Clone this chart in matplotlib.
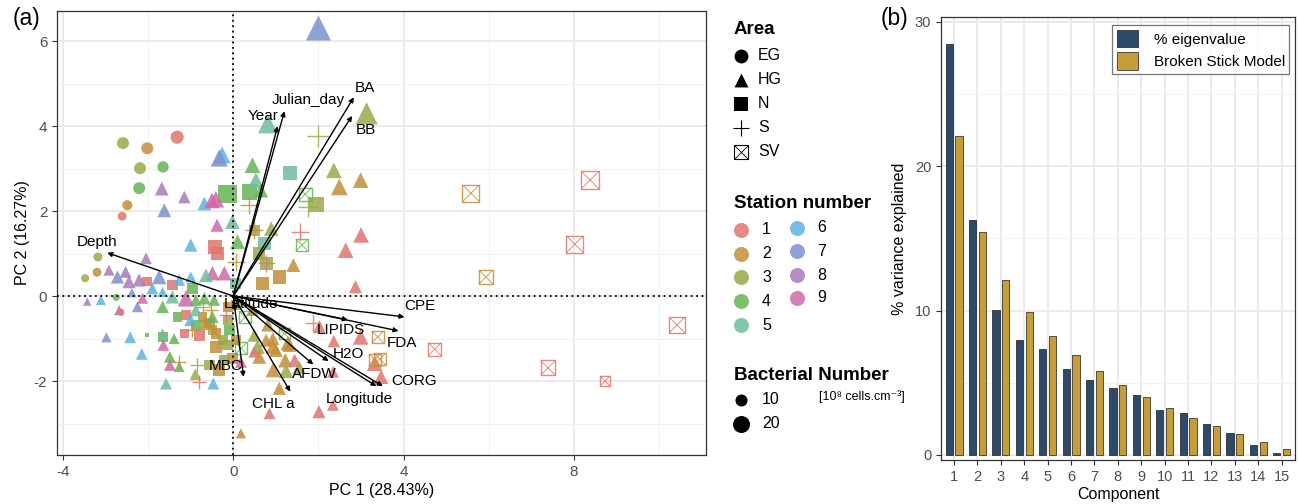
import matplotlib
matplotlib.use('Agg')
import matplotlib.pyplot as plt
from matplotlib.patches import Patch
from matplotlib.ticker import MultipleLocator

plt.rcParams['font.family'] = ['Liberation Sans', 'DejaVu Sans']
plt.rcParams['axes.unicode_minus'] = False

# ---------------- data: PCA scores (PC1, PC2), station, bacterial number ----------
eg_x = [-1.32, -2.59, -2.02, -2.19, -1.65, -2.21, -2.49, -2.61, -3.18, -3.20, -3.48, -2.75, -2.64]
eg_y = [3.74, 3.60, 3.48, 3.01, 3.04, 2.54, 2.14, 1.88, 0.92, 0.56, 0.42, -0.03, -0.38]
eg_stn = [1, 3, 2, 3, 4, 4, 2, 1, 3, 2, 3, 4, 1]
eg_bact = [12, 10, 10, 10, 9, 10, 7, 5.5, 5.5, 5.5, 4.5, 3.5, 3.5]

hg_x = [2.00, 3.13, 0.81, -0.26, -0.33, -1.68, -1.15, -1.62, -0.68, -0.50, -0.41, 0.45, 0.53, 0.65,
        2.36, 2.49, 2.99, -1.00, -0.38, -0.02, 0.10, 0.89, 3.00, 2.64, 1.41, 2.87, -0.49, -0.21,
        -0.64, -2.05, -2.92, -2.72, -2.53, -2.45, -2.21, -1.74, -1.90, -1.66, -1.27, -1.00, -2.38,
        -3.43, -3.11, -2.13, -2.25, -2.68, -1.66, -2.98, -2.42, -1.39, -1.64, -1.66, -2.15, -1.49,
        -1.49, -1.27, -0.89, -0.47, -1.58, -1.43, -1.11, -0.88, -0.68, -0.45, -0.88, -1.00, -0.49,
        0.18, 0.45, 2.02, 2.36, 2.99, 3.32, 3.47, 2.34, 2.34, 2.01, 1.22, 1.44, 1.24, 1.55, 1.08,
        1.28, 0.81, 0.93, 0.57, 0.93, 0.93, 0.61, 1.32, 0.85, 0.18, 0.49, 0.49, 0.77, 1.00]
hg_y = [6.31, 4.30, 4.06, 3.32, 3.25, 2.53, 2.33, 2.02, 2.18, 2.25, 2.28, 3.08, 2.73, 2.49,
        2.96, 2.57, 2.73, 1.20, 1.67, 1.75, 1.28, 1.59, 1.44, 1.08, 0.73, 0.22, 0.54, 0.54,
        0.49, 0.89, 0.61, 0.45, 0.57, 0.34, 0.38, 0.45, 0.18, 0.10, 0.38, 0.45, 0.08,
        -0.13, -0.09, -0.05, -0.25, -0.33, -0.25, -0.97, -0.97, -1.00, -1.15, -0.88, -1.36, -1.43,
        -1.62, -1.66, -1.84, -2.06, -2.06, -0.02, -0.05, -0.09, -0.05, -0.09, -0.33, -0.56, -0.49,
        -1.55, -0.33, -0.72, -1.06, -0.96, -1.58, -1.90, -1.78, -2.56, -2.72, -1.51, -1.51, -1.76, -1.68, -2.17,
        -1.11, -0.68, -1.00, -1.19, -1.19, -1.74, -1.43, -1.15, -2.76, -3.23, -0.92, -1.31, -1.04, -1.27]
hg_stn = [7, 3, 5, 6, 7, 8, 8, 7, 6, 9, 9, 4, 5, 4,
          3, 2, 2, 6, 9, 5, 4, 3, 1, 1, 2, 1, 9, 9,
          5, 8, 8, 7, 8, 8, 8, 7, 6, 6, 6, 6, 7,
          8, 6, 9, 7, 8, 4, 7, 6, 4, 9, 5, 6, 4,
          9, 4, 3, 6, 5, 5, 9, 4, 4, 4, 5, 6, 4,
          9, 2, 1, 1, 1, 1, 1, 1, 1, 1, 2, 1, 3, 3, 2,
          2, 2, 2, 3, 2, 2, 2, 2, 1, 2, 3, 1, 2, 2]
hg_bact = [36, 28, 22, 16, 17, 11, 9, 11, 11, 14, 16, 14, 14, 12,
           14, 16, 14, 10, 10, 12, 12, 12, 14, 14, 11, 10, 12, 12,
           11, 8, 7, 10, 8, 10, 10, 12, 8, 6, 8, 7, 5,
           4, 6, 7, 7, 6, 9, 6, 8, 7, 8, 6, 8, 8,
           8, 7, 8, 8, 8, 10, 16, 8, 9, 8, 9, 9, 9,
           8, 8, 10, 9, 14, 14, 12, 8, 8, 10, 12, 10, 12, 10, 10,
           12, 10, 10, 12, 12, 12, 11, 11, 8, 6, 10, 8, 10, 11]

n_x = [-0.13, 0.38, 1.33, 1.95, -0.43, -0.38, 0.49, 0.73, 0.61, 0.77, 1.08, 0.69, 0.06, -2.02,
       -1.43, -0.96, -2.02, -1.65, -1.31, -1.11, -0.72, -1.15, -0.80, -0.49, -0.64, -0.88, -0.41,
       -0.25, -0.09, -0.13, 0.06, -0.56, -0.33, -0.41, -0.13, -0.02, -0.56, -0.13, 0.06, -0.21]
n_y = [2.40, 2.45, 2.89, 2.16, 1.15, 1.00, 1.55, 1.24, 1.00, 0.77, 0.45, 0.30, 0.30, 0.34,
       0.26, 0.18, -0.92, -0.96, -0.49, -0.45, -0.49, -0.88, -0.92, -0.80, -0.68, -0.68, -0.88,
       -1.04, -0.80, -0.25, -0.21, -1.62, -1.74, -1.19, -1.15, -1.47, -0.64, -0.56, -1.04, -1.50]
n_stn = [4, 4, 5, 3, 1, 1, 3, 5, 3, 3, 2, 2, 5, 1,
         1, 4, 4, 4, 4, 1, 2, 1, 1, 3, 2, 4, 2,
         3, 4, 2, 3, 3, 2, 2, 3, 2, 2, 3, 2, 3]
n_bact = [30, 20, 17, 19, 17, 15, 11, 13, 13, 15, 15, 15, 10, 8,
          10, 10, 1.4, 9, 8, 8, 8, 7, 10, 8, 9, 8, 9,
          9, 9, 9, 9, 10, 12, 12, 10, 10, 9, 9, 9, 9]

s_x = [2.00, 0.38, 0.49, 1.75, 1.57, 0.77, 0.06, 1.87, -0.72, -0.52, -0.17, -0.96, -1.27, -0.86, -0.80]
s_y = [3.76, 2.14, 1.55, 2.10, 1.51, 0.77, 0.81, -0.63, -0.25, -0.33, -0.45, -0.80, -1.55, -1.62, -2.02]
s_stn = [3, 2, 2, 3, 1, 1, 2, 1, 3, 2, 1, 2, 2, 3, 1]
s_bact = [24, 16, 16, 20, 16, 14, 16, 14, 10, 10, 10, 10, 10, 10, 10]

sv_x = [5.58, 8.38, 8.02, 5.93, 10.42, 4.73, 7.39, 8.73, 3.39, 3.32, 3.44, 0.28, 1.20, 0.18, 1.69, 1.61]
sv_y = [2.42, 2.73, 1.22, 0.45, -0.68, -1.25, -1.69, -2.00, -0.96, -1.50, -1.48, -0.50, -0.88, -1.23, 2.40, 1.20]
sv_stn = [2, 1, 1, 2, 1, 1, 1, 1, 2, 2, 2, 4, 4, 4, 4, 4]
sv_bact = [25, 28, 25, 17, 22, 15, 19, 10, 12, 12, 12, 12, 12, 12, 15, 13]

# ---------------- loadings (arrows) ----------------
var_names = ['Year', 'Julian_day', 'BA', 'BB', 'Depth', 'CPE', 'FDA', 'LIPIDS', 'H2O', 'AFDW',
             'CORG', 'Longitude', 'CHL a', 'MBC', 'Latitude']
load_x = [1.04, 1.20, 2.83, 2.79, -2.96, 4.02, 3.88, 2.69, 2.24, 1.88, 3.51, 3.36, 1.34, 0.24, 0.05]
load_y = [4.00, 4.35, 4.68, 4.24, 1.02, -0.49, -0.82, -0.56, -1.53, -1.61, -2.12, -2.12, -2.25, -1.90, -0.35]
lab_x = [0.71, 1.76, 3.08, 3.12, -3.21, 4.39, 3.97, 2.53, 2.71, 1.91, 4.24, 2.96, 0.93, -0.17, 0.42]
lab_y = [4.24, 4.62, 4.90, 3.90, 1.28, -0.23, -1.10, -0.80, -1.36, -1.84, -2.00, -2.43, -2.53, -1.65, -0.19]

# ---------------- scree plot ----------------
components = list(range(1, 16))
eigen_pct = [28.43, 16.27, 10.04, 7.96, 7.32, 5.93, 5.19, 4.66, 4.13, 3.12, 2.89, 2.12, 1.50, 0.69, 0.12]
broken_stick = [22.12, 15.45, 12.12, 9.90, 8.23, 6.90, 5.79, 4.83, 4.00, 3.26, 2.59, 1.99, 1.43, 0.92, 0.44]

station_colors = {1: '#E0766F', 2: '#C48E38', 3: '#9BAA48', 4: '#68B456', 5: '#6EBC9C',
                  6: '#5DB4E0', 7: '#7B92CE', 8: '#A87CB8', 9: '#CE6AA6'}
ALPHA = 0.85
size_k = {'EG': 7.5, 'HG': 9.1, 'N': 6.0, 'S': 10.5, 'SV': 6.0}


def msize(b, area):
    return size_k[area] * b


fig = plt.figure(figsize=(12.98, 5.04), dpi=100)

# ================= Panel (a) =================
ax = fig.add_axes([57 / 1298, 1 - 455 / 504, (706 - 57) / 1298, (455 - 11) / 504])
ax.set_xlim(-4.14, 11.1)
ax.set_ylim(-3.74, 6.71)
ax.xaxis.set_major_locator(MultipleLocator(4))
ax.xaxis.set_minor_locator(MultipleLocator(2))
ax.yaxis.set_major_locator(MultipleLocator(2))
ax.yaxis.set_minor_locator(MultipleLocator(1))
ax.grid(which='major', color='#EBEBEB', lw=1.4, zorder=0)
ax.grid(which='minor', color='#F2F2F2', lw=0.7, zorder=0)
ax.set_axisbelow(True)
ax.tick_params(which='minor', length=0)
ax.tick_params(which='major', direction='out', length=3.5, width=0.8, color='#333333',
               labelcolor='#4D4D4D', labelsize=11)
for sp in ax.spines.values():
    sp.set_color('#333333')
    sp.set_linewidth(0.9)

groups = [('N', n_x, n_y, n_stn, n_bact), ('HG', hg_x, hg_y, hg_stn, hg_bact),
          ('EG', eg_x, eg_y, eg_stn, eg_bact), ('S', s_x, s_y, s_stn, s_bact),
          ('SV', sv_x, sv_y, sv_stn, sv_bact)]
for area, xs, ys, st, bb in groups:
    cols = [station_colors[k] for k in st]
    sz = [msize(b, area) for b in bb]
    if area == 'EG':
        ax.scatter(xs, ys, s=sz, c=cols, marker='o', alpha=ALPHA, linewidths=0, zorder=3)
    elif area == 'HG':
        ax.scatter(xs, ys, s=sz, c=cols, marker='^', alpha=ALPHA, linewidths=0, zorder=3)
    elif area == 'N':
        ax.scatter(xs, ys, s=sz, c=cols, marker='s', alpha=ALPHA, linewidths=0, zorder=3)
    elif area == 'S':
        ax.scatter(xs, ys, s=sz, c=cols, marker='+', alpha=ALPHA, linewidths=1.0, zorder=3)
    else:
        ax.scatter(xs, ys, s=sz, facecolors='none', edgecolors=cols, marker='s',
                   alpha=ALPHA, linewidths=1.0, zorder=3)
        ax.scatter(xs, ys, s=sz, c=cols, marker='x', alpha=ALPHA, linewidths=0.7, zorder=3)

ax.axhline(0, color='black', lw=1.3, ls=(0, (1, 2)), zorder=4)
ax.axvline(0, color='black', lw=1.3, ls=(0, (1, 2)), zorder=4)

for name, lx, ly, tx, ty in zip(var_names, load_x, load_y, lab_x, lab_y):
    ax.annotate('', xy=(lx, ly), xytext=(0, 0),
                arrowprops=dict(arrowstyle='-|>', color='black', lw=1.0, mutation_scale=7,
                                shrinkA=0, shrinkB=0), zorder=5)
    ax.text(tx, ty, name, fontsize=11, ha='center', va='center', color='black', zorder=6)

ax.set_xlabel('PC 1 (28.43%)', fontsize=11.5, labelpad=3)
ax.set_ylabel('PC 2 (16.27%)', fontsize=11.5, labelpad=3)

# ================= Panel (b) =================
bx = fig.add_axes([941 / 1298, 1 - 460 / 504, (1295 - 941) / 1298, (460 - 16.7) / 504])
off = 0.21
w = 0.31
bx.bar([c - off for c in components], eigen_pct, width=w, color='#2D4A6B',
       edgecolor='#1A1A1A', linewidth=0.5, zorder=3, label='% eigenvalue')
bx.bar([c + off for c in components], broken_stick, width=w, color='#C79D3A',
       edgecolor='#1A1A1A', linewidth=0.5, zorder=3, label='Broken Stick Model')
bx.set_xlim(0.44, 15.57)
bx.set_ylim(-0.35, 30.35)
bx.set_xticks(components)
bx.yaxis.set_major_locator(MultipleLocator(10))
bx.yaxis.set_minor_locator(MultipleLocator(5))
bx.grid(which='major', color='#EBEBEB', lw=1.4, zorder=0)
bx.grid(which='minor', axis='y', color='#F2F2F2', lw=0.7, zorder=0)
bx.set_axisbelow(True)
bx.tick_params(which='minor', length=0)
bx.tick_params(which='major', direction='out', length=3.5, width=0.8, color='#333333',
               labelcolor='#4D4D4D', labelsize=10.5)
for sp in bx.spines.values():
    sp.set_color('#333333')
    sp.set_linewidth(0.9)
bx.set_xlabel('Component', fontsize=11.5, labelpad=2)
bx.set_ylabel('% variance explained', fontsize=11.5, labelpad=6)
handles = [Patch(facecolor='#2D4A6B', edgecolor='#1A1A1A', lw=0.5),
           Patch(facecolor='#C79D3A', edgecolor='#1A1A1A', lw=0.5)]
leg = bx.legend(handles, ['% eigenvalue', 'Broken Stick Model'], loc='upper right',
                bbox_to_anchor=(0.993, 0.988), fontsize=11, frameon=True, fancybox=False,
                handlelength=1.4, handleheight=1.4, handletextpad=1.0, borderpad=0.3,
                labelspacing=0.3, borderaxespad=0.2)
leg.get_frame().set_edgecolor('#555555')
leg.get_frame().set_linewidth(0.9)

# ================= panel tags =================
fig.text(26 / 1298, 1 - 18 / 504, '(a)', fontsize=16.5, ha='center', va='center')
fig.text(895 / 1298, 1 - 18 / 504, '(b)', fontsize=16.5, ha='center', va='center')

# ================= legend for panel (a) (pixel-coordinate overlay) =================
lg = fig.add_axes([0, 0, 1, 1], zorder=10)
lg.set_xlim(0, 1298)
lg.set_ylim(504, 0)
lg.axis('off')
lg.patch.set_alpha(0)

kx = 741
tx = 758
lg.text(734, 30, 'Area', fontsize=13.5, fontweight='bold', va='center', ha='left')
area_names = ['EG', 'HG', 'N', 'S', 'SV']
area_keys = [56, 80, 104, 128, 152]
for nm, yy in zip(area_names, area_keys):
    if nm == 'EG':
        lg.scatter([kx], [yy], s=100, marker='o', c='black', linewidths=0)
    elif nm == 'HG':
        lg.scatter([kx], [yy], s=100, marker='^', c='black', linewidths=0)
    elif nm == 'N':
        lg.scatter([kx], [yy], s=88, marker='s', c='black', linewidths=0)
    elif nm == 'S':
        lg.scatter([kx], [yy], s=120, marker='+', c='black', linewidths=0.8)
    else:
        lg.scatter([kx], [yy], s=90, marker='s', facecolors='none', edgecolors='black', linewidths=0.8)
        lg.scatter([kx], [yy], s=90, marker='x', c='black', linewidths=0.6)
    lg.text(tx, yy, nm, fontsize=11.5, va='center', ha='left')

lg.text(734, 204, 'Station number', fontsize=13.5, fontweight='bold', va='center', ha='left')
col1_y = [230, 254, 277, 301, 325]
col2_y = [228, 251, 275, 298]
for i, yy in enumerate(col1_y):
    lg.scatter([kx], [yy], s=117, marker='o', c=station_colors[i + 1], alpha=ALPHA, linewidths=0)
    lg.text(762, yy, str(i + 1), fontsize=11.5, va='center', ha='left')
for i, yy in enumerate(col2_y):
    lg.scatter([797], [yy], s=117, marker='o', c=station_colors[i + 6], alpha=ALPHA, linewidths=0)
    lg.text(817, yy, str(i + 6), fontsize=11.5, va='center', ha='left')

lg.text(734, 376, 'Bacterial Number', fontsize=13.5, fontweight='bold', va='center', ha='left')
lg.text(819, 397, '[10⁸ cells.cm⁻³]', fontsize=9, va='center', ha='left')
for val, yy in zip([10, 20], [400, 424]):
    lg.scatter([kx], [yy], s=msize(val, 'EG'), marker='o', c='black', linewidths=0)
    lg.text(762, yy, str(val), fontsize=11.5, va='center', ha='left')

fig.savefig('out.png', dpi=100)
